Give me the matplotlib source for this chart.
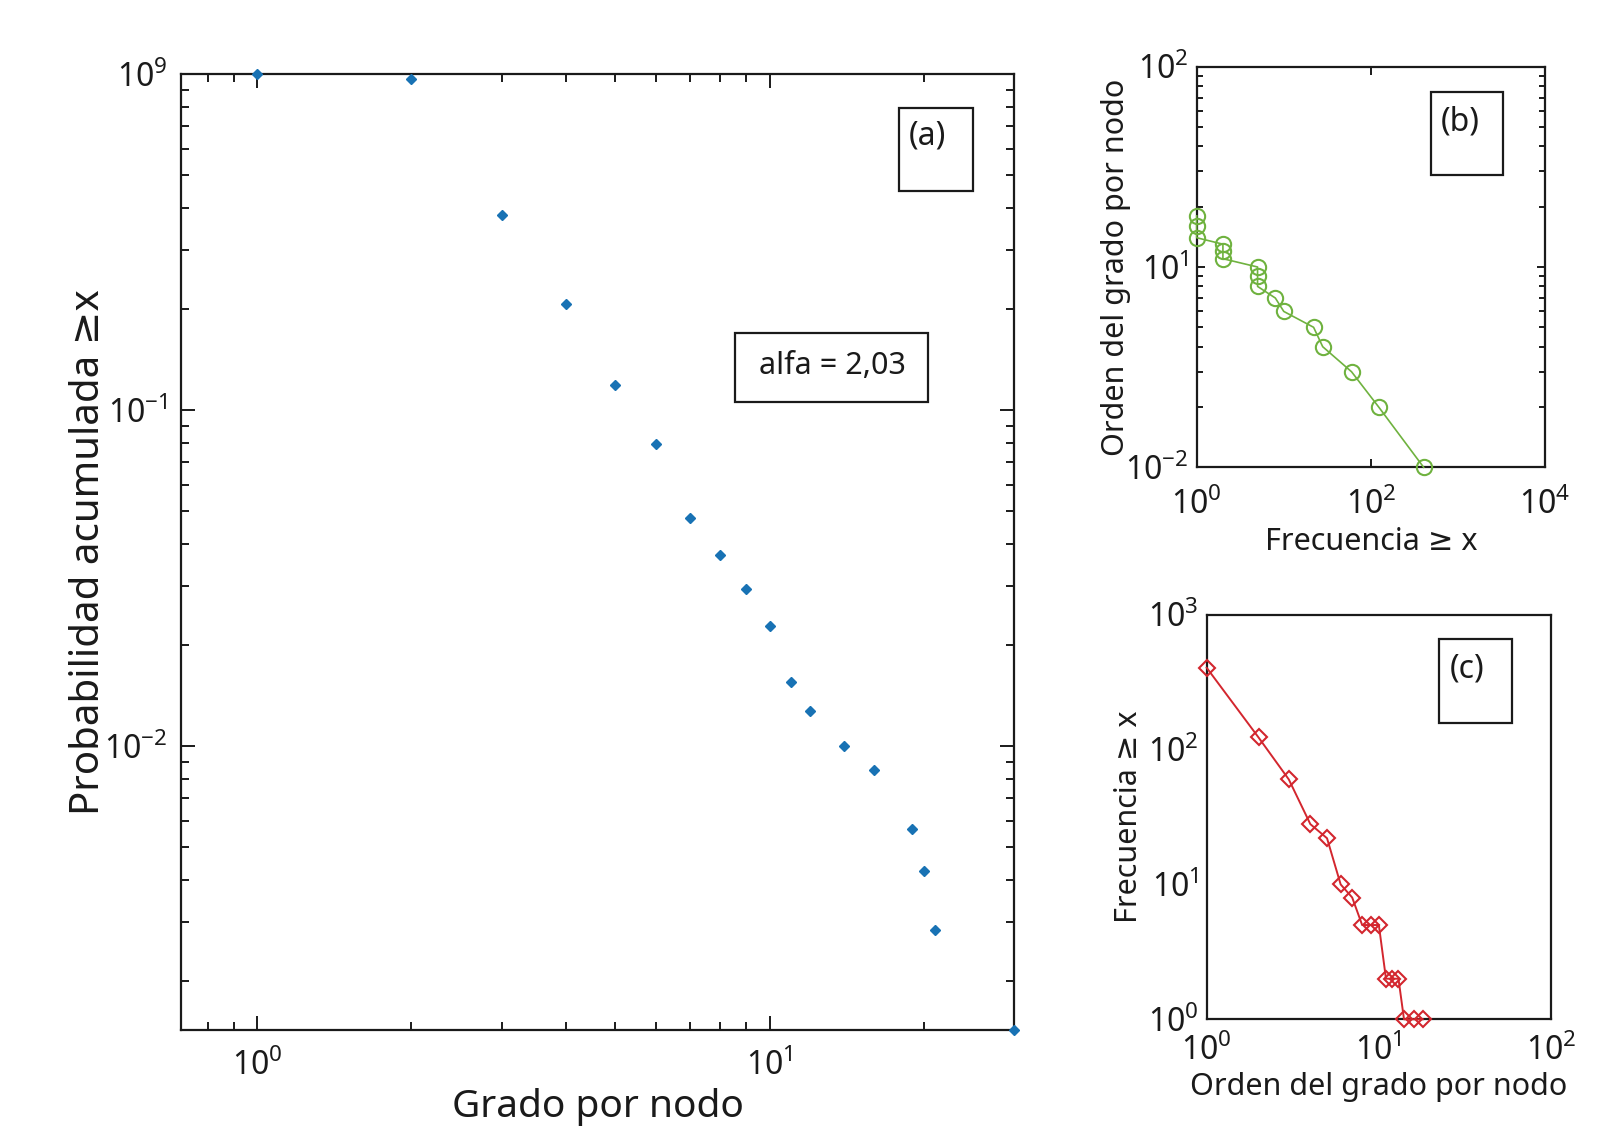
import matplotlib
matplotlib.use("Agg")
import matplotlib.pyplot as plt
from matplotlib.patches import Rectangle
from matplotlib.ticker import FixedLocator, FixedFormatter, NullLocator, NullFormatter

plt.rcParams['font.family'] = ['Noto Sans', 'DejaVu Sans']
plt.rcParams['mathtext.fontset'] = 'custom'
plt.rcParams['mathtext.rm'] = 'Noto Sans'
plt.rcParams['mathtext.it'] = 'Noto Sans:italic'
plt.rcParams['mathtext.bf'] = 'Noto Sans:bold'

# ---- data ----
# (a) cumulative degree distribution
grado = [1, 2, 3, 4, 5, 6, 7, 8, 9, 10, 11, 12, 14, 16, 19, 20, 21, 30]
prob_acum = [1.0, 0.97, 0.382, 0.207, 0.1186, 0.0793, 0.0478, 0.0371, 0.0294,
             0.0228, 0.0155, 0.0127, 0.0100, 0.00849, 0.00567, 0.00424,
             0.00283, 0.00143]
alfa_text = "alfa = 2,03"

# (b)/(c) rank vs frequency
orden = [1, 2, 3, 4, 5, 6, 7, 8, 9, 10, 11, 12, 13, 14, 16, 18]
frecuencia = [404, 123, 60, 28, 22, 10, 8, 5, 5, 5, 2, 2, 2, 1, 1, 1]

# tick labels (as printed in the reference)
a_xticks = [1, 10]
a_xticklabels = ["$10^{0}$", "$10^{1}$"]
a_yticks = [1, 0.1, 0.01]
a_yticklabels = ["$10^{9}$", "$10^{-1}$", "$10^{-2}$"]
b_xticks = [1, 100, 10000]
b_xticklabels = ["$10^{0}$", "$10^{2}$", "$10^{4}$"]
b_yticks = [1, 10, 100]
b_yticklabels = ["$10^{-2}$", "$10^{1}$", "$10^{2}$"]
c_xticks = [1, 10, 100]
c_xticklabels = ["$10^{0}$", "$10^{1}$", "$10^{2}$"]
c_yticks = [1, 10, 100, 1000]
c_yticklabels = ["$10^{0}$", "$10^{1}$", "$10^{2}$", "$10^{3}$"]

W, H = 1620, 1133
fig = plt.figure(figsize=(W / 100, H / 100), dpi=100)


def ax_px(l, t, r, b):
    return fig.add_axes([l / W, 1 - b / H, (r - l) / W, (b - t) / H])


def box_px(l, t, r, b, lw=1.6):
    fig.patches.append(Rectangle((l / W, 1 - b / H), (r - l) / W, (b - t) / H,
                                 transform=fig.transFigure, fill=False,
                                 edgecolor='#1a1a1a', linewidth=lw))


def minor_vals(lo, hi):
    vals = []
    e = 1e-4
    while e < hi * 10:
        for m in range(2, 10):
            v = m * e
            if lo <= v <= hi:
                vals.append(v)
        e *= 10
    return vals


spine_c = '#1a1a1a'
txt_c = '#1a1a1a'
blue = '#1872b4'
green = '#6fb23f'
red = '#d3262e'
TICK_FS = 23

# ---------------- (a) ----------------
axa = ax_px(181, 74.3, 1014, 1030)
axa.set_xscale('log')
axa.set_yscale('log')
axa.plot(grado, prob_acum, linestyle='none', marker='D', markersize=5.5,
         color=blue, clip_on=False, zorder=5)
axa.set_xlim(0.71, 30)
axa.set_ylim(0.00143, 1)
axa.xaxis.set_major_locator(FixedLocator(a_xticks))
axa.xaxis.set_major_formatter(FixedFormatter(a_xticklabels))
axa.xaxis.set_minor_locator(FixedLocator(minor_vals(0.71, 30)))
axa.xaxis.set_minor_formatter(NullFormatter())
axa.yaxis.set_major_locator(FixedLocator(a_yticks))
axa.yaxis.set_major_formatter(FixedFormatter(a_yticklabels))
axa.yaxis.set_minor_locator(FixedLocator(minor_vals(0.00143, 1)))
axa.yaxis.set_minor_formatter(NullFormatter())
axa.tick_params(which='both', direction='in', top=True, right=True,
                color=spine_c, labelsize=TICK_FS, labelcolor=txt_c)
axa.tick_params(which='major', length=10, width=1.4)
axa.tick_params(axis='x', which='major', pad=14)
axa.tick_params(axis='y', which='major', pad=10)
axa.tick_params(which='minor', length=5.5, width=1.4)
for s in axa.spines.values():
    s.set_linewidth(1.6)
    s.set_color(spine_c)
axa.set_xlabel("Grado por nodo", fontsize=28, labelpad=4, color=txt_c)
axa.set_ylabel("Probabilidad acumulada ≥x", fontsize=29, labelpad=-4,
               color=txt_c)

box_px(899, 108, 973, 191)
fig.text(927 / W, 1 - 136 / H, "(a)", fontsize=23, ha='center', va='center',
         color=txt_c)
box_px(735, 333, 928, 402)
fig.text(832 / W, 1 - 366 / H, alfa_text, fontsize=22, ha='center',
         va='center', color=txt_c)

# ---------------- (b) ----------------
axb = ax_px(1196.7, 66.7, 1545, 467.3)
axb.set_xscale('log')
axb.set_yscale('log')
axb.plot(frecuencia, orden, linestyle='-', linewidth=1.2, color=green,
         marker='o', markersize=11, markerfacecolor='none',
         markeredgecolor=green, markeredgewidth=1.5, clip_on=False, zorder=5)
axb.set_xlim(1, 10000)
axb.set_ylim(1, 100)
axb.xaxis.set_major_locator(FixedLocator(b_xticks))
axb.xaxis.set_major_formatter(FixedFormatter(b_xticklabels))
axb.xaxis.set_minor_locator(NullLocator())
axb.yaxis.set_major_locator(FixedLocator(b_yticks))
axb.yaxis.set_major_formatter(FixedFormatter(b_yticklabels))
axb.yaxis.set_minor_locator(FixedLocator(minor_vals(1, 100)))
axb.yaxis.set_minor_formatter(NullFormatter())
axb.tick_params(which='both', direction='in', top=True, right=True,
                color=spine_c, labelsize=TICK_FS, labelcolor=txt_c)
axb.tick_params(which='major', length=6, width=1.4)
axb.tick_params(axis='x', which='major', pad=15)
axb.tick_params(axis='y', which='major', pad=6)
axb.tick_params(which='minor', length=4, width=1.4)
for s in axb.spines.values():
    s.set_linewidth(1.6)
    s.set_color(spine_c)
axb.set_xlabel("Frecuencia ≥ x", fontsize=22, labelpad=4, color=txt_c)
axb.set_ylabel("Orden del grado por nodo", fontsize=22, labelpad=-4,
               color=txt_c)

box_px(1431, 91.7, 1503, 175)
fig.text(1460 / W, 1 - 122 / H, "(b)", fontsize=23, ha='center', va='center',
         color=txt_c)

# ---------------- (c) ----------------
axc = ax_px(1206.7, 614.7, 1551, 1019.3)
axc.set_xscale('log')
axc.set_yscale('log')
axc.plot(orden, frecuencia, linestyle='-', linewidth=1.4, color=red,
         marker='D', markersize=8, markerfacecolor='none',
         markeredgecolor=red, markeredgewidth=1.5, clip_on=False, zorder=5)
axc.set_xlim(1, 100)
axc.set_ylim(1, 1000)
axc.xaxis.set_major_locator(FixedLocator(c_xticks))
axc.xaxis.set_major_formatter(FixedFormatter(c_xticklabels))
axc.xaxis.set_minor_locator(NullLocator())
axc.yaxis.set_major_locator(FixedLocator(c_yticks))
axc.yaxis.set_major_formatter(FixedFormatter(c_yticklabels))
axc.yaxis.set_minor_locator(NullLocator())
axc.tick_params(which='both', length=0, labelsize=TICK_FS, labelcolor=txt_c)
axc.tick_params(axis='x', pad=11)
axc.tick_params(axis='y', pad=6)
for s in axc.spines.values():
    s.set_linewidth(1.6)
    s.set_color(spine_c)
axc.set_xlabel("Orden del grado por nodo", fontsize=22, labelpad=3,
               color=txt_c)
axc.set_ylabel("Frecuencia ≥ x", fontsize=22, labelpad=3, color=txt_c)

box_px(1439.3, 639.3, 1512.3, 723)
fig.text(1467 / W, 1 - 669 / H, "(c)", fontsize=23, ha='center', va='center',
         color=txt_c)

fig.savefig("out.png", dpi=100, facecolor='white')
